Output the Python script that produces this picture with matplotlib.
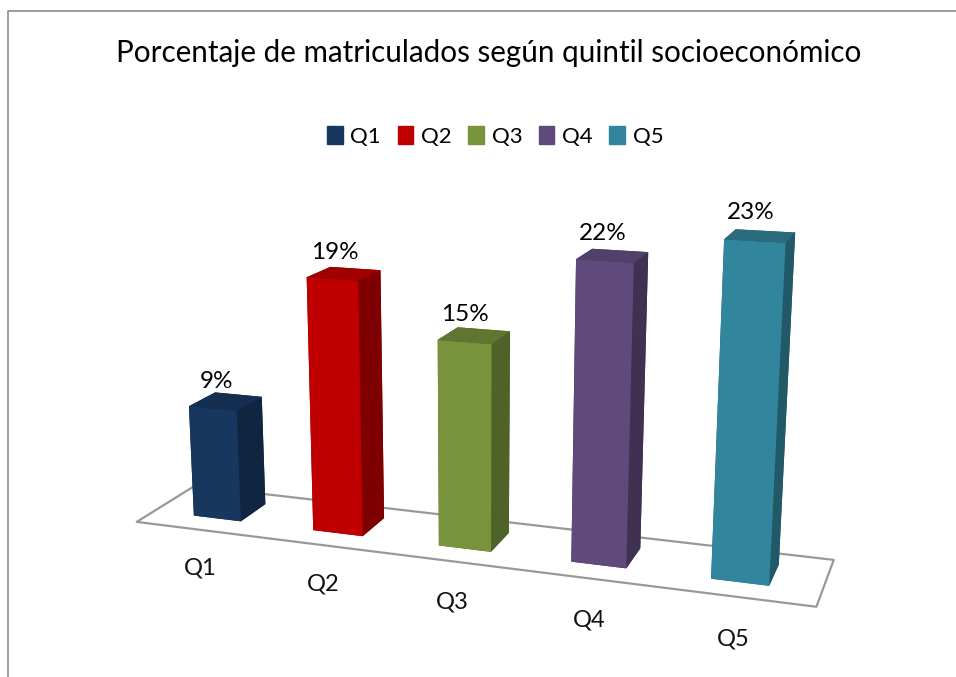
import matplotlib
matplotlib.use("Agg")
import matplotlib.pyplot as plt
from matplotlib.lines import Line2D
from matplotlib.patches import Patch
from mpl_toolkits.mplot3d.art3d import Poly3DCollection

categorias = ["Q1", "Q2", "Q3", "Q4", "Q5"]
valores = [8.6, 19.0, 15.2, 21.5, 23.4]
etiquetas = ["9%", "19%", "15%", "22%", "23%"]
frente = ["#17375E", "#C00000", "#77933C", "#604A7B", "#31859C"]
lado = ["#10253F", "#7F0000", "#4F6228", "#403152", "#215968"]
arriba = ["#142F50", "#A00000", "#5F7530", "#50406A", "#2A6C7E"]

plt.rcParams["font.family"] = ["Lato", "DejaVu Sans"]

fig = plt.figure(figsize=(9.56, 6.77), dpi=100)
ax = fig.add_axes([-0.0135, -0.064, 1.0, 1.0], projection="3d")
ax.computed_zorder = False
ax.set_proj_type("persp", focal_length=0.45)
ax.view_init(elev=14.5, azim=-71)
ax.set_axis_off()
fondo = 0.88
ax.set_xlim(0, 5)
ax.set_ylim(0, fondo)
ax.set_zlim(0, 25)
ax.set_box_aspect((5, fondo, 2.53), zoom=1.135)

# piso
piso = Poly3DCollection([[(-0.05, -0.03, 0), (5.05, -0.03, 0), (5.05, fondo, 0), (-0.05, fondo, 0)]],
                        facecolor="white", edgecolor="#999999", linewidth=1.6, zorder=1)
ax.add_collection3d(piso)
piso.set_clip_on(False)

ancho = 0.4
for i in range(len(valores)):
    x0 = i + 0.5 - ancho / 2
    barra = ax.bar3d(x0, 0.23, 0, ancho, 0.42, valores[i], shade=False,
                     color=[lado[i], arriba[i], frente[i], lado[i], lado[i], lado[i]],
                     zsort="max", zorder=2 + i)
    barra.set_clip_on(False)
    ax.text(i + 0.43, 0.44, valores[i] + 1.5, etiquetas[i], ha="center", va="center",
            fontsize=17.5, color="black", zorder=100)
    ax.text(i + 0.46 + 0.012 * i, 0, -3.2, categorias[i], ha="center", va="center",
            fontsize=17, color="#111111", zorder=100)

fig.text(0.5115, 0.921, "Porcentaje de matriculados según quintil socioeconómico",
         ha="center", va="center", fontsize=21.3)
fig.legend(handles=[Patch(color=frente[i], label=categorias[i]) for i in range(5)],
           loc="center", bbox_to_anchor=(0.518, 0.798), ncol=5, frameon=False,
           fontsize=16, handlelength=0.7, handleheight=0.85, handletextpad=0.35,
           columnspacing=0.75)

# marco
fig.add_artist(Line2D([0.0085, 0.0085, 1.0], [0.0, 0.984, 0.984], color="#8C8C8C", linewidth=1.2))

fig.savefig("out.png", dpi=100)
